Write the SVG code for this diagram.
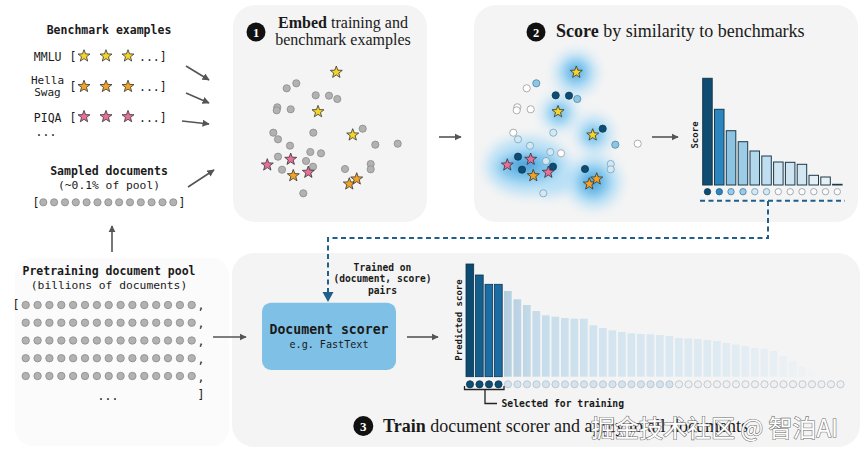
<svg xmlns="http://www.w3.org/2000/svg" xmlns:xlink="http://www.w3.org/1999/xlink" width="865" height="456" viewBox="0 0 865 456">
<style>
.mono{font-family:"DejaVu Sans Mono","Liberation Mono",monospace;fill:#1a1a1a}
.b{font-weight:bold}
.serif{font-family:"Liberation Serif","DejaVu Serif",serif;fill:#1a1a1a}
.panel{fill:#f4f4f4}
.gd{fill:#b2b2b2;stroke:#8a8a8a;stroke-width:0.8}
.arr{stroke:#555;stroke-width:1.6;fill:none;marker-end:url(#ah)}
.sy{fill:#f5d327;stroke:#333;stroke-width:0.8}
.so{fill:#f2a324;stroke:#333;stroke-width:0.8}
.sp{fill:#e66f9c;stroke:#333;stroke-width:0.8}
.dk{fill:#0f4c72;stroke:#0a3a58;stroke-width:0.8}
.lt{fill:#8ec5e2;stroke:#4a88ac;stroke-width:0.8}
.vl{fill:#d2e8f3;stroke:#7aa5bd;stroke-width:0.8}
.wh{fill:#ffffff;stroke:#9a9a9a;stroke-width:0.8}
.num{font-family:"Liberation Serif",serif;font-weight:bold;fill:#fff;text-anchor:middle}
.dash{stroke:#1f5f8a;stroke-width:2;stroke-dasharray:5 3.5;fill:none}
</style>
<defs>
<marker id="ah" viewBox="0 0 10 10" refX="9" refY="5" markerWidth="4.5" markerHeight="4.5" orient="auto" markerUnits="strokeWidth">
<path d="M0,0 L10,5 L0,10 z" fill="#555"/>
</marker>
<path id="star" d="M0,-6.3 L1.54,-2.12 L5.99,-1.95 L2.49,0.81 L3.7,5.1 L0,2.62 L-3.7,5.1 L-2.49,0.81 L-5.99,-1.95 L-1.54,-2.12 Z"/>
<g id="poolrow">
<circle cx="25.7" cy="0" r="3.7"/><circle cx="37.6" cy="0" r="3.7"/><circle cx="49.4" cy="0" r="3.7"/><circle cx="61.3" cy="0" r="3.7"/><circle cx="73.1" cy="0" r="3.7"/><circle cx="85" cy="0" r="3.7"/><circle cx="96.9" cy="0" r="3.7"/><circle cx="108.7" cy="0" r="3.7"/><circle cx="120.6" cy="0" r="3.7"/><circle cx="132.4" cy="0" r="3.7"/><circle cx="144.3" cy="0" r="3.7"/><circle cx="156.2" cy="0" r="3.7"/><circle cx="168" cy="0" r="3.7"/><circle cx="179.9" cy="0" r="3.7"/><circle cx="191.7" cy="0" r="3.7"/>
</g>
<filter id="blur" x="-60%" y="-60%" width="220%" height="220%"><feGaussianBlur stdDeviation="6"/></filter>
<filter id="blur2" x="-60%" y="-60%" width="220%" height="220%"><feGaussianBlur stdDeviation="4"/></filter>
<linearGradient id="fade" gradientUnits="userSpaceOnUse" x1="504" y1="0" x2="815" y2="0">
<stop offset="0" stop-color="#b3cde0"/><stop offset="0.1" stop-color="#c6dcea"/><stop offset="0.35" stop-color="#d4e5f0"/><stop offset="0.7" stop-color="#dfebf2"/><stop offset="0.9" stop-color="#eaf0f4"/><stop offset="1" stop-color="#f1f3f5"/>
</linearGradient>
</defs>

<rect width="865" height="456" fill="#ffffff"/>

<!-- panels -->
<g id="panel1"><rect class="panel" x="233" y="5" width="194" height="217" rx="22"/></g>
<g id="panel2"><rect class="panel" x="474" y="5" width="384" height="217" rx="22"/></g>
<g id="panel3"><rect class="panel" x="232" y="253" width="628" height="194" rx="22"/></g>
<g id="poolpanel"><rect x="15" y="258" width="214" height="188" rx="18" fill="#fbfbfb"/></g>

<!-- benchmark examples -->
<g id="benchmarks">
<text class="mono b" x="109" y="34" font-size="11.5" text-anchor="middle">Benchmark examples</text>
<text class="mono" x="61.5" y="61" font-size="11.5" text-anchor="end">MMLU</text>
<text class="mono" x="73" y="61" font-size="11.5" text-anchor="middle" fill="#444">[</text>
<use href="#star" x="84" y="56" class="sy"/><use href="#star" x="106" y="56" class="sy"/><use href="#star" x="128" y="56" class="sy"/>
<text class="mono" x="139" y="61" font-size="11.5">...]</text>
<text class="mono" x="47.5" y="84" font-size="11" text-anchor="middle">Hella</text>
<text class="mono" x="47.5" y="96" font-size="11" text-anchor="middle">Swag</text>
<text class="mono" x="73" y="91" font-size="11.5" text-anchor="middle">[</text>
<use href="#star" x="84" y="86.5" class="so"/><use href="#star" x="106" y="86.5" class="so"/><use href="#star" x="128" y="86.5" class="so"/>
<text class="mono" x="139" y="91" font-size="11.5">...]</text>
<text class="mono" x="61.5" y="121.5" font-size="11.5" text-anchor="end">PIQA</text>
<text class="mono" x="73" y="121.5" font-size="11.5" text-anchor="middle">[</text>
<use href="#star" x="84" y="116.7" class="sp"/><use href="#star" x="106" y="116.7" class="sp"/><use href="#star" x="128" y="116.7" class="sp"/>
<text class="mono" x="139" y="121.5" font-size="11.5">...]</text>
<text class="mono" x="46" y="136" font-size="11.5" text-anchor="middle">...</text>
</g>

<!-- sampled documents -->
<g id="sampled">
<text class="mono b" x="109" y="175" font-size="11.5" text-anchor="middle">Sampled documents</text>
<text class="mono" x="109" y="189.3" font-size="11.3" text-anchor="middle">(~0.1% of pool)</text>
<text class="mono" x="36" y="206.5" font-size="11.5" text-anchor="middle">[</text>
<text class="mono" x="182" y="206.5" font-size="11.5" text-anchor="middle">]</text>
<g class="gd">
<circle cx="43.3" cy="202.3" r="3.6"/><circle cx="54.1" cy="202.3" r="3.6"/><circle cx="65" cy="202.3" r="3.6"/><circle cx="75.8" cy="202.3" r="3.6"/><circle cx="86.6" cy="202.3" r="3.6"/><circle cx="97.5" cy="202.3" r="3.6"/><circle cx="108.3" cy="202.3" r="3.6"/><circle cx="119.1" cy="202.3" r="3.6"/><circle cx="130" cy="202.3" r="3.6"/><circle cx="140.8" cy="202.3" r="3.6"/><circle cx="151.6" cy="202.3" r="3.6"/><circle cx="162.5" cy="202.3" r="3.6"/><circle cx="173.3" cy="202.3" r="3.6"/>
</g>
</g>

<!-- pretraining pool -->
<g id="pool">
<text class="mono b" x="109" y="275" font-size="11.5" text-anchor="middle">Pretraining document pool</text>
<text class="mono" x="109" y="289.3" font-size="11.3" text-anchor="middle">(billions of documents)</text>
<text class="mono" x="16" y="309" font-size="11.5" text-anchor="middle" fill="#444">[</text>
<g class="gd">
<use href="#poolrow" y="305"/><use href="#poolrow" y="322.7"/><use href="#poolrow" y="340.5"/><use href="#poolrow" y="358.2"/><use href="#poolrow" y="376"/>
</g>
<text class="mono" x="201" y="309" font-size="11.5" text-anchor="middle">,</text>
<text class="mono" x="201" y="327" font-size="11.5" text-anchor="middle">,</text>
<text class="mono" x="201" y="345" font-size="11.5" text-anchor="middle">,</text>
<text class="mono" x="201" y="362.5" font-size="11.5" text-anchor="middle">,</text>
<text class="mono" x="201" y="380.5" font-size="11.5" text-anchor="middle">,</text>
<text class="mono" x="108" y="400" font-size="11.5" text-anchor="middle">...</text>
<text class="mono" x="201" y="399" font-size="11.5" text-anchor="middle">]</text>
</g>

<!-- panel 1 content -->
<g id="embed">
<circle cx="256" cy="32" r="9.5" fill="#111"/>
<text class="num" x="256" y="36.5" font-size="12.5">1</text>
<text class="serif" x="343" y="27.5" font-size="16" text-anchor="middle"><tspan font-weight="bold">Embed</tspan> training and</text>
<text class="serif" x="343" y="45" font-size="16" text-anchor="middle">benchmark examples</text>
<g class="gd">
<circle cx="286.7" cy="88.3" r="3.6"/><circle cx="296.3" cy="83.3" r="3.6"/><circle cx="315.7" cy="95.3" r="3.6"/><circle cx="329" cy="95.7" r="3.6"/><circle cx="337.3" cy="99" r="3.6"/>
<circle cx="277.3" cy="107.3" r="3.6"/><circle cx="276.7" cy="110.3" r="3.6"/><circle cx="290.7" cy="109.3" r="3.6"/><circle cx="273.3" cy="132.7" r="3.6"/><circle cx="278" cy="139.3" r="3.6"/>
<circle cx="313.3" cy="132.7" r="3.6"/><circle cx="290" cy="145.7" r="3.6"/><circle cx="362.7" cy="128.7" r="3.6"/><circle cx="375.3" cy="144.7" r="3.6"/><circle cx="397.7" cy="143.7" r="3.6"/>
<circle cx="278" cy="156.7" r="3.6"/><circle cx="310.3" cy="152" r="3.6"/><circle cx="321" cy="153.3" r="3.6"/><circle cx="306" cy="161" r="3.6"/><circle cx="313" cy="166.7" r="3.6"/>
<circle cx="282" cy="169.7" r="3.6"/><circle cx="345" cy="169" r="3.6"/><circle cx="370.7" cy="164" r="3.6"/><circle cx="370.7" cy="169.3" r="3.6"/><circle cx="303.3" cy="193.3" r="3.6"/>
</g>
<use href="#star" x="336.3" y="72.3" class="sy"/><use href="#star" x="318" y="111.7" class="sy"/><use href="#star" x="352.7" y="135" class="sy"/>
<use href="#star" x="267.3" y="165" class="sp"/><use href="#star" x="290.7" y="159.3" class="sp"/><use href="#star" x="308.3" y="172.3" class="sp"/>
<use href="#star" x="293.3" y="175.7" class="so"/><use href="#star" x="349.3" y="184" class="so"/><use href="#star" x="356.7" y="179" class="so"/>
</g>

<!-- panel 2 content -->
<g id="score">
<circle cx="536" cy="32" r="9.5" fill="#111"/>
<text class="num" x="536" y="36.5" font-size="12.5">2</text>
<text class="serif" x="556" y="37" font-size="18"><tspan font-weight="bold">Score</tspan> by similarity to benchmarks</text>
<g filter="url(#blur)">
<g fill="#b9e0f6">
<circle cx="576" cy="73" r="21"/><circle cx="559" cy="113" r="17"/><circle cx="594" cy="134" r="18"/>
<ellipse cx="528" cy="166" rx="42" ry="29"/><ellipse cx="550" cy="178" rx="24" ry="18"/><circle cx="594" cy="182" r="26"/>
</g>
</g>
<g filter="url(#blur2)">
<g fill="#74bfea" opacity="0.85">
<circle cx="576" cy="72" r="12"/><circle cx="559" cy="113" r="9"/><circle cx="593" cy="135" r="9"/>
<ellipse cx="528" cy="167" rx="30" ry="15"/><circle cx="593" cy="182" r="16"/>
</g>
<g fill="#3d9bd6" opacity="0.75">
<circle cx="576" cy="72" r="5"/><ellipse cx="525" cy="165" rx="14" ry="7"/><circle cx="593" cy="182" r="8"/>
</g>
</g>
<circle class="wh" cx="526.7" cy="88.3" r="3.6"/><circle class="lt" cx="536.3" cy="83.3" r="3.6"/><circle class="dk" cx="555.7" cy="95.3" r="3.6"/><circle class="dk" cx="569" cy="95.7" r="3.6"/><circle class="lt" cx="577.3" cy="99" r="3.6"/>
<circle class="wh" cx="517.3" cy="107.3" r="3.6"/><circle class="wh" cx="516.7" cy="110.3" r="3.6"/><circle class="wh" cx="530.7" cy="109.3" r="3.6"/><circle class="wh" cx="513.3" cy="132.7" r="3.6"/><circle class="vl" cx="518" cy="139.3" r="3.6"/>
<circle class="vl" cx="553.3" cy="132.7" r="3.6"/><circle class="vl" cx="530" cy="145.7" r="3.6"/><circle class="dk" cx="602.7" cy="128.7" r="3.6"/><circle class="lt" cx="615.3" cy="144.7" r="3.6"/><circle class="wh" cx="637.7" cy="143.7" r="3.6"/>
<circle class="dk" cx="518" cy="156.7" r="3.6"/><circle class="vl" cx="550.3" cy="152" r="3.6"/><circle class="wh" cx="561" cy="153.3" r="3.6"/><circle class="vl" cx="546" cy="161" r="3.6"/><circle class="dk" cx="553" cy="166.7" r="3.6"/>
<circle class="dk" cx="522" cy="169.7" r="3.6"/><circle class="dk" cx="585" cy="169" r="3.6"/><circle class="vl" cx="610.7" cy="164" r="3.6"/><circle class="vl" cx="610.7" cy="169.3" r="3.6"/><circle class="vl" cx="543.3" cy="193.3" r="3.6"/>
<use href="#star" x="576.3" y="72.3" class="sy"/><use href="#star" x="558" y="111.7" class="sy"/><use href="#star" x="592.7" y="135" class="sy"/>
<use href="#star" x="507.3" y="165" class="sp"/><use href="#star" x="530.7" y="159.3" class="sp"/><use href="#star" x="548.3" y="172.3" class="sp"/>
<use href="#star" x="533.3" y="175.7" class="so"/><use href="#star" x="589.3" y="184" class="so"/><use href="#star" x="596.7" y="179" class="so"/>
</g>

<!-- score bar chart -->
<g id="scorechart">
<text class="mono b" font-size="9" text-anchor="middle" transform="translate(697.5,135) rotate(-90)">Score</text>
<g stroke="#1b3a4b" stroke-width="1">
<rect x="702.7" y="78.3" width="9.5" height="106.7" fill="#0f4c72"/>
<rect x="714.5" y="109.3" width="9.5" height="75.7" fill="#2a86bf"/>
<rect x="726.3" y="130.7" width="9.5" height="54.3" fill="#8cc3e1"/>
<rect x="738.2" y="141.7" width="9.5" height="43.3" fill="#9dcce6"/>
<rect x="750" y="151" width="9.5" height="34" fill="#b3d8ec"/>
<rect x="761.8" y="156" width="9.5" height="29" fill="#c0def0"/>
<rect x="773.6" y="162" width="9.5" height="23" fill="#cfe5f2"/>
<rect x="785.4" y="162.3" width="9.5" height="22.7" fill="#cfe5f2"/>
<rect x="797.2" y="164.3" width="9.5" height="20.7" fill="#d3e7f3"/>
<rect x="809" y="175.3" width="9.5" height="9.7" fill="#e3eef5"/>
<rect x="820.8" y="177" width="9.5" height="8" fill="#e8f0f5"/>
<rect x="832.6" y="184.3" width="9.5" height="0.7" fill="#eef2f5"/>
</g>
<circle class="dk" cx="707.5" cy="191.7" r="3.2"/>
<circle cx="719.3" cy="191.7" r="3.2" fill="#2a86bf" stroke="#1a5f8c" stroke-width="0.8"/>
<circle cx="731" cy="191.7" r="3.2" fill="#9ccbe5" stroke="#3f7ea3" stroke-width="0.8"/>
<circle cx="743" cy="191.7" r="3.2" fill="#9ccbe5" stroke="#3f7ea3" stroke-width="0.8"/>
<circle cx="754.8" cy="191.7" r="3.2" fill="#d4e9f4" stroke="#6c98b1" stroke-width="0.8"/>
<circle cx="766.5" cy="191.7" r="3.2" fill="#d4e9f4" stroke="#6c98b1" stroke-width="0.8"/>
<g fill="#fafafa" stroke="#8a9aa4" stroke-width="0.8">
<circle cx="778.3" cy="191.7" r="3.2"/><circle cx="790.2" cy="191.7" r="3.2"/><circle cx="802" cy="191.7" r="3.2"/><circle cx="813.8" cy="191.7" r="3.2"/><circle cx="825.5" cy="191.7" r="3.2"/><circle cx="837.3" cy="191.7" r="3.2"/>
</g>
</g>

<!-- document scorer -->
<g id="scorer">
<rect x="262" y="302.7" width="134" height="67.3" rx="9" fill="#7fc0e6"/>
<text class="mono b" x="329" y="334" font-size="13.2" text-anchor="middle" fill="#10273a">Document scorer</text>
<text class="mono" x="329" y="347.5" font-size="10.1" text-anchor="middle" fill="#1d4560">e.g. FastText</text>
</g>
<g id="trainedlabel">
<text class="mono b" font-size="9.6" text-anchor="middle" fill="#2f7fb5"><tspan x="382.5" y="270.7">Trained on</tspan><tspan x="382.5" y="282.3">(document, score)</tspan><tspan x="382.5" y="293.5">pairs</tspan></text>
</g>

<!-- predicted chart -->
<g id="predchart">
<text class="mono b" font-size="9" text-anchor="middle" transform="translate(461.5,320) rotate(-90)">Predicted score</text>
<g stroke="#0b3552" stroke-width="0.8">
<rect x="466" y="264" width="7.7" height="112.7" fill="#0d4a70"/>
<rect x="475.5" y="275" width="7.7" height="101.7" fill="#145e8c"/>
<rect x="485" y="284.3" width="7.7" height="92.4" fill="#1b6ca3"/>
<rect x="494.5" y="284.3" width="7.7" height="92.4" fill="#1b6ca3"/>
</g>
<g fill="url(#fade)">
<rect x="504" y="291" width="7.7" height="85.7"/>
<rect x="513.5" y="299.3" width="7.7" height="77.4"/>
<rect x="523" y="305" width="7.7" height="71.7"/>
<rect x="532.5" y="311" width="7.7" height="65.7"/>
<rect x="542" y="315.3" width="7.7" height="61.4"/>
<rect x="551.5" y="316.7" width="7.7" height="60"/>
<rect x="561" y="318" width="7.7" height="58.7"/>
<rect x="570.5" y="318.7" width="7.7" height="58"/>
<rect x="580" y="318.7" width="7.7" height="58"/>
<rect x="589.5" y="325.3" width="7.7" height="51.4"/>
<rect x="599" y="328" width="7.7" height="48.7"/>
<rect x="608.5" y="330.3" width="7.7" height="46.4"/>
<rect x="618" y="332" width="7.7" height="44.7"/>
<rect x="627.5" y="333.3" width="7.7" height="43.4"/>
<rect x="637" y="334" width="7.7" height="42.7"/>
<rect x="646.5" y="334.3" width="7.7" height="42.4"/>
<rect x="656" y="335" width="7.7" height="41.7"/>
<rect x="665.5" y="336" width="7.7" height="40.7"/>
<rect x="675" y="338" width="7.7" height="38.7"/>
<rect x="684.5" y="338.5" width="7.7" height="38.2"/>
<rect x="694" y="339" width="7.7" height="37.7"/>
<rect x="703.5" y="340" width="7.7" height="36.7"/>
<rect x="713" y="341" width="7.7" height="35.7"/>
<rect x="722.5" y="343" width="7.7" height="33.7"/>
<rect x="732" y="344.5" width="7.7" height="32.2"/>
<rect x="741.5" y="346" width="7.7" height="30.7"/>
<rect x="751" y="348" width="7.7" height="28.7"/>
<rect x="760.5" y="349" width="7.7" height="27.7"/>
<rect x="770" y="351" width="7.7" height="25.7"/>
<rect x="779.5" y="356" width="7.7" height="20.7"/>
<rect x="789" y="361" width="7.7" height="15.7"/>
<rect x="798.5" y="366" width="7.7" height="10.7"/>
<rect x="808" y="371" width="7.7" height="5.7"/>
</g>
<g class="dk">
<circle cx="470" cy="384.3" r="3.6"/><circle cx="479.5" cy="384.3" r="3.6"/><circle cx="489" cy="384.3" r="3.6"/><circle cx="498.5" cy="384.3" r="3.6"/>
</g>
<g fill="#d6e2ec" stroke="#b0c3d1" stroke-width="0.8">
<circle cx="508" cy="384.3" r="3.6"/><circle cx="517.5" cy="384.3" r="3.6"/><circle cx="527" cy="384.3" r="3.6"/><circle cx="536.5" cy="384.3" r="3.6"/><circle cx="546" cy="384.3" r="3.6"/><circle cx="555.5" cy="384.3" r="3.6"/><circle cx="565" cy="384.3" r="3.6"/><circle cx="574.5" cy="384.3" r="3.6"/><circle cx="584" cy="384.3" r="3.6"/><circle cx="593.5" cy="384.3" r="3.6"/><circle cx="603" cy="384.3" r="3.6"/><circle cx="612.5" cy="384.3" r="3.6"/><circle cx="622" cy="384.3" r="3.6"/><circle cx="631.5" cy="384.3" r="3.6"/><circle cx="641" cy="384.3" r="3.6"/><circle cx="650.5" cy="384.3" r="3.6"/><circle cx="660" cy="384.3" r="3.6"/><circle cx="669.5" cy="384.3" r="3.6"/>
</g>
<g fill="#eef0f2" stroke="#b8c0c6" stroke-width="0.8">
<circle cx="679" cy="384.3" r="3.6"/><circle cx="688.5" cy="384.3" r="3.6"/><circle cx="698" cy="384.3" r="3.6"/><circle cx="707.5" cy="384.3" r="3.6"/><circle cx="717" cy="384.3" r="3.6"/><circle cx="726.5" cy="384.3" r="3.6"/><circle cx="736" cy="384.3" r="3.6"/><circle cx="745.5" cy="384.3" r="3.6"/><circle cx="755" cy="384.3" r="3.6"/><circle cx="764.5" cy="384.3" r="3.6"/><circle cx="774" cy="384.3" r="3.6"/><circle cx="783.5" cy="384.3" r="3.6"/><circle cx="793" cy="384.3" r="3.6"/><circle cx="802.5" cy="384.3" r="3.6"/><circle cx="812" cy="384.3" r="3.6"/><circle cx="821.5" cy="384.3" r="3.6"/><circle cx="831" cy="384.3" r="3.6"/><circle cx="840.5" cy="384.3" r="3.6"/>
</g>
<path d="M464.5,386 V389.5 H504 V386 M485,389.5 V403.5 H497" fill="none" stroke="#222" stroke-width="1.3"/>
<text class="mono b" x="501.5" y="407.3" font-size="9.7">Selected for training</text>
</g>

<!-- panel 3 caption -->
<g id="caption3">
<circle cx="363.3" cy="426" r="10" fill="#111"/>
<text class="num" x="363.3" y="430.5" font-size="13">3</text>
<text class="serif" x="383" y="432" font-size="18"><tspan font-weight="bold">Train</tspan> document scorer and apply to all documents</text>
</g>

<!-- connectors -->
<g id="connectors">
<path class="arr" d="M186,66 L209,80"/>
<path class="arr" d="M186,93 L209,103"/>
<path class="arr" d="M182,121 L209,124"/>
<path class="arr" d="M188,187 L214,170"/>
<path class="arr" d="M112,252 L112,226"/>
<path class="arr" d="M439,137 L461,137"/>
<path class="arr" d="M652,137 L678,137"/>
<path class="arr" d="M213,337 L246,337"/>
<path class="arr" d="M407,337 L438,337"/>
<path class="dash" d="M700,200.7 H845"/>
<path class="dash" d="M768,201 V238 H328 V295"/>
<path d="M322.5,292 L333.5,292 L328,302 Z" fill="#1f5f8a"/>
</g>

<!-- watermark -->
<g id="watermark">
<text x="591" y="437" font-size="24" font-family="'Noto Sans CJK SC','Noto Sans',sans-serif" fill="#ffffff" stroke="#6a6a6a" stroke-width="1.1" paint-order="stroke">掘金技术社区 @ 智泊AI</text>
</g>
</svg>
